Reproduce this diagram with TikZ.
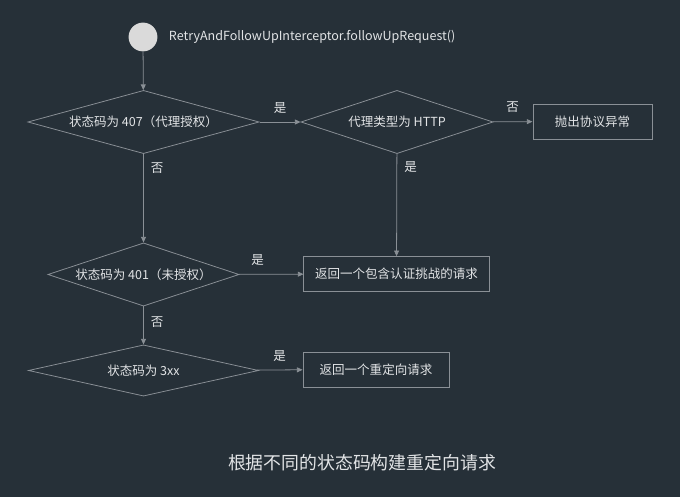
\documentclass[tikz,border=0pt]{standalone}
\usepackage{fontspec}
\setmainfont{Noto Sans CJK SC}
\usetikzlibrary{shapes.geometric,arrows.meta}
\definecolor{bgdark}{HTML}{263038}
\definecolor{linegray}{HTML}{8A9096}
\definecolor{textlight}{HTML}{E2E4E6}
\definecolor{startgray}{HTML}{DADADA}
\tikzset{
  flow/.style={draw=linegray, line width=0.55pt, -{Triangle[length=4pt,width=3.5pt]}},
  decision/.style={diamond, draw=linegray, line width=0.55pt, aspect=3.6, inner sep=0pt,
    text=textlight, font=\fontsize{8.9pt}{10.5pt}\selectfont},
  action/.style={rectangle, draw=linegray, line width=0.55pt, inner sep=0pt,
    minimum height=0.87cm, text=textlight, font=\fontsize{8.9pt}{10.5pt}\selectfont},
  lbl/.style={text=textlight, font=\fontsize{8.9pt}{10.5pt}\selectfont, inner sep=1pt},
}
\begin{document}
\begin{tikzpicture}[x=0.025cm,y=-0.025cm]
\fill[bgdark] (0,0) rectangle (680,497);
\useasboundingbox (0,0) rectangle (680,497);
% start
\node[circle, fill=startgray, minimum size=0.72cm, inner sep=0pt] (start) at (143,37) {};
\node[anchor=west, text=textlight, font=\fontsize{8.9pt}{10.5pt}\selectfont] (title) at (164,37)
  {RetryAndFollowUpInterceptor.followUpRequest()};
% decisions
\node[decision, minimum width=5.78cm, minimum height=1.58cm] (proxyauth) at (143.5,122) {状态码为 407（代理授权）};
\node[decision, minimum width=4.8cm, minimum height=1.58cm] (proxytype) at (397,122) {代理类型为 HTTP};
\node[decision, minimum width=4.78cm, minimum height=1.58cm] (unauth) at (143.5,274.5) {状态码为 401（未授权）};
\node[decision, minimum width=5.75cm, minimum height=1.28cm] (redirect) at (143.5,370.5) {状态码为 3xx};
% results
\node[action, minimum width=2.98cm] (protoerr) at (592.5,121.5) {抛出协议异常};
\node[action, minimum width=4.63cm] (challenge) at (396.5,274) {返回一个包含认证挑战的请求};
\node[action, minimum width=3.65cm] (redirreq) at (376,369.5) {返回一个重定向请求};
% connectors
\draw[flow] (start) -- (proxyauth);
\draw[flow] (proxyauth) -- node[lbl, above=5pt] (y1) {是} (proxytype);
\draw[flow] (proxytype) -- node[lbl, above=5pt] (n1) {否} (protoerr);
\draw[flow] (proxytype) -- node[lbl, pos=0.13, right=4pt] (y2) {是} (challenge);
\draw[flow] (proxyauth) -- node[lbl, pos=0.16, right=4pt] (n2) {否} (unauth);
\draw[flow] (unauth) -- node[lbl, pos=0.29, above=5pt] (y3) {是} (challenge);
\draw[flow] (unauth) -- node[lbl, pos=0.4, right=4pt] (n3) {否} (redirect);
\draw[flow] (redirect) -- node[lbl, above=5pt] (y4) {是} (redirreq);
% caption
\node[text=textlight, font=\fontsize{12.7pt}{15pt}\selectfont] (caption) at (362,463) {根据不同的状态码构建重定向请求};
\end{tikzpicture}
\end{document}
